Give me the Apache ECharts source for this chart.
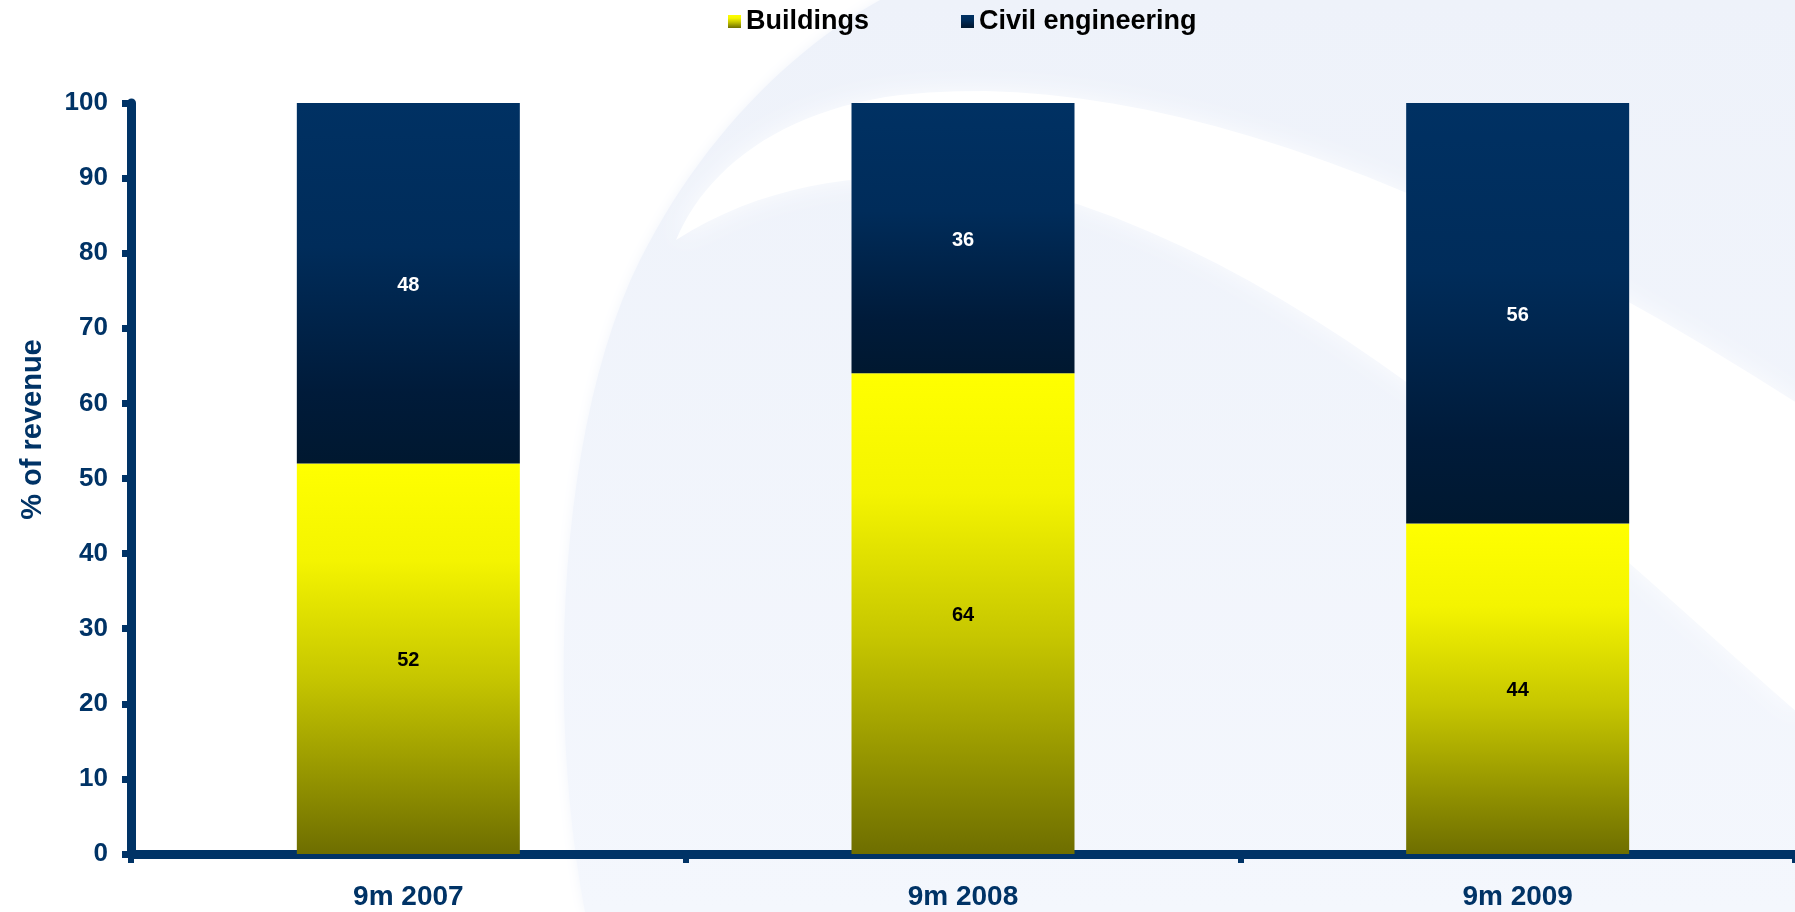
<!DOCTYPE html>
<html>
<head>
<meta charset="utf-8">
<script src="https://cdn.jsdelivr.net/npm/echarts@6/dist/echarts.min.js"></script>
<style>
  html, body { margin: 0; padding: 0; background: #ffffff; }
  #chart { width: 1795px; height: 912px; }
</style>
</head>
<body>
<div id="chart"></div>
<script>
// Revenue split by segment, % of revenue
const categories = ['9m 2007', '9m 2008', '9m 2009'];
const buildings = [52, 64, 44];
const civilEngineering = [48, 36, 56];
const seriesNames = ['Buildings', 'Civil engineering'];

const NAVY = '#003366';
const FONT = '"Liberation Sans", Arial, sans-serif';

const yellowFill = new echarts.graphic.LinearGradient(0, 0, 0, 1, [
  { offset: 0, color: '#FFFF00' },
  { offset: 0.25, color: '#F4F400' },
  { offset: 0.55, color: '#C6C600' },
  { offset: 1, color: '#6E6E00' }
]);
const navyFill = new echarts.graphic.LinearGradient(0, 0, 0, 1, [
  { offset: 0, color: '#003163' },
  { offset: 0.4, color: '#002C5A' },
  { offset: 0.8, color: '#001B3A' },
  { offset: 1, color: '#001830' }
]);

// Decorative globe watermark behind the plot.
// Outlines are given as runs of straight points ('L') and cubic curves ('C').
function outline(start, segments) {
  const pts = [start];
  let p0 = start;
  segments.forEach(function (seg) {
    if (seg[0] === 'L') {
      pts.push(seg[1]);
      p0 = seg[1];
    } else {
      const c1 = seg[1], c2 = seg[2], p3 = seg[3];
      for (let i = 1; i <= 24; i++) {
        const t = i / 24, u = 1 - t;
        pts.push([
          u * u * u * p0[0] + 3 * u * u * t * c1[0] + 3 * u * t * t * c2[0] + t * t * t * p3[0],
          u * u * u * p0[1] + 3 * u * u * t * c1[1] + 3 * u * t * t * c2[1] + t * t * t * p3[1]
        ]);
      }
      p0 = p3;
    }
  });
  return pts;
}

const globeShape = outline([585, 912], [
  ['C', [545, 700], [560, 420], [640, 260]],
  ['C', [700, 140], [790, 50], [880, 0]],
  ['L', [1800, 0]],
  ['L', [1800, 912]]
]);
const swooshShape = outline([676, 240], [
  ['C', [705, 170], [780, 110], [900, 95]],
  ['C', [1120, 70], [1420, 160], [1800, 405]],
  ['L', [1800, 715]],
  ['C', [1600, 540], [1360, 300], [1080, 205]],
  ['C', [960, 165], [800, 160], [676, 240]]
]);

const chart = echarts.init(document.getElementById('chart'), null, { renderer: 'canvas' });

chart.setOption({
  backgroundColor: '#ffffff',
  animation: false,
  textStyle: { fontFamily: FONT },
  graphic: {
    elements: [
      {
        type: 'polygon', silent: true, z: -100,
        shape: { points: globeShape },
        style: {
          fill: new echarts.graphic.LinearGradient(0, 0, 0, 1, [
            { offset: 0, color: '#EEF2FA' },
            { offset: 1, color: '#F4F7FD' }
          ]),
          shadowBlur: 12, shadowColor: 'rgba(238,242,250,0.8)'
        }
      },
      {
        type: 'polygon', silent: true, z: -99,
        shape: { points: swooshShape },
        style: { fill: 'rgba(255,255,255,0.92)', shadowBlur: 25, shadowColor: 'rgba(255,255,255,0.9)' }
      }
    ]
  },
  legend: {
    left: 728,
    top: 8,
    padding: 0,
    itemWidth: 13,
    itemHeight: 13,
    itemGap: 92,
    icon: 'rect',
    data: seriesNames,
    textStyle: { fontFamily: FONT, fontSize: 27, fontWeight: 'bold', color: '#000000' }
  },
  grid: { left: 131, right: -5, top: 103, bottom: 58, containLabel: false },
  xAxis: {
    type: 'category',
    data: categories,
    boundaryGap: true,
    axisLine: { lineStyle: { color: NAVY, width: 9 } },
    axisTick: { show: true, alignWithLabel: false, length: 9, lineStyle: { color: NAVY, width: 6 } },
    axisLabel: { margin: 29, color: NAVY, fontFamily: FONT, fontSize: 28, fontWeight: 'bold' },
    splitLine: { show: false }
  },
  yAxis: {
    type: 'value',
    min: 0,
    max: 100,
    interval: 10,
    name: '% of revenue',
    nameLocation: 'middle',
    nameRotate: 90,
    nameGap: 84,
    nameTextStyle: {
      color: NAVY, fontFamily: FONT, fontSize: 29, fontWeight: 'bold',
      padding: [0, 0, 0, 98]
    },
    axisLine: { show: true, lineStyle: { color: NAVY, width: 9 } },
    axisTick: { show: true, length: 9, lineStyle: { color: NAVY, width: 7 } },
    axisLabel: { margin: 23, color: NAVY, fontFamily: FONT, fontSize: 26, fontWeight: 'bold' },
    splitLine: { show: false }
  },
  series: [
    {
      name: seriesNames[0],
      type: 'bar',
      stack: 'share',
      barWidth: 223,
      data: buildings,
      itemStyle: { color: yellowFill },
      label: { show: true, position: 'inside', offset: [0, 2], color: '#000000', fontFamily: FONT, fontSize: 20, fontWeight: 'bold' }
    },
    {
      name: seriesNames[1],
      type: 'bar',
      stack: 'share',
      barWidth: 223,
      data: civilEngineering,
      itemStyle: { color: navyFill },
      label: { show: true, position: 'inside', offset: [0, 2], color: '#ffffff', fontFamily: FONT, fontSize: 20, fontWeight: 'bold' }
    }
  ]
});
</script>
</body>
</html>
